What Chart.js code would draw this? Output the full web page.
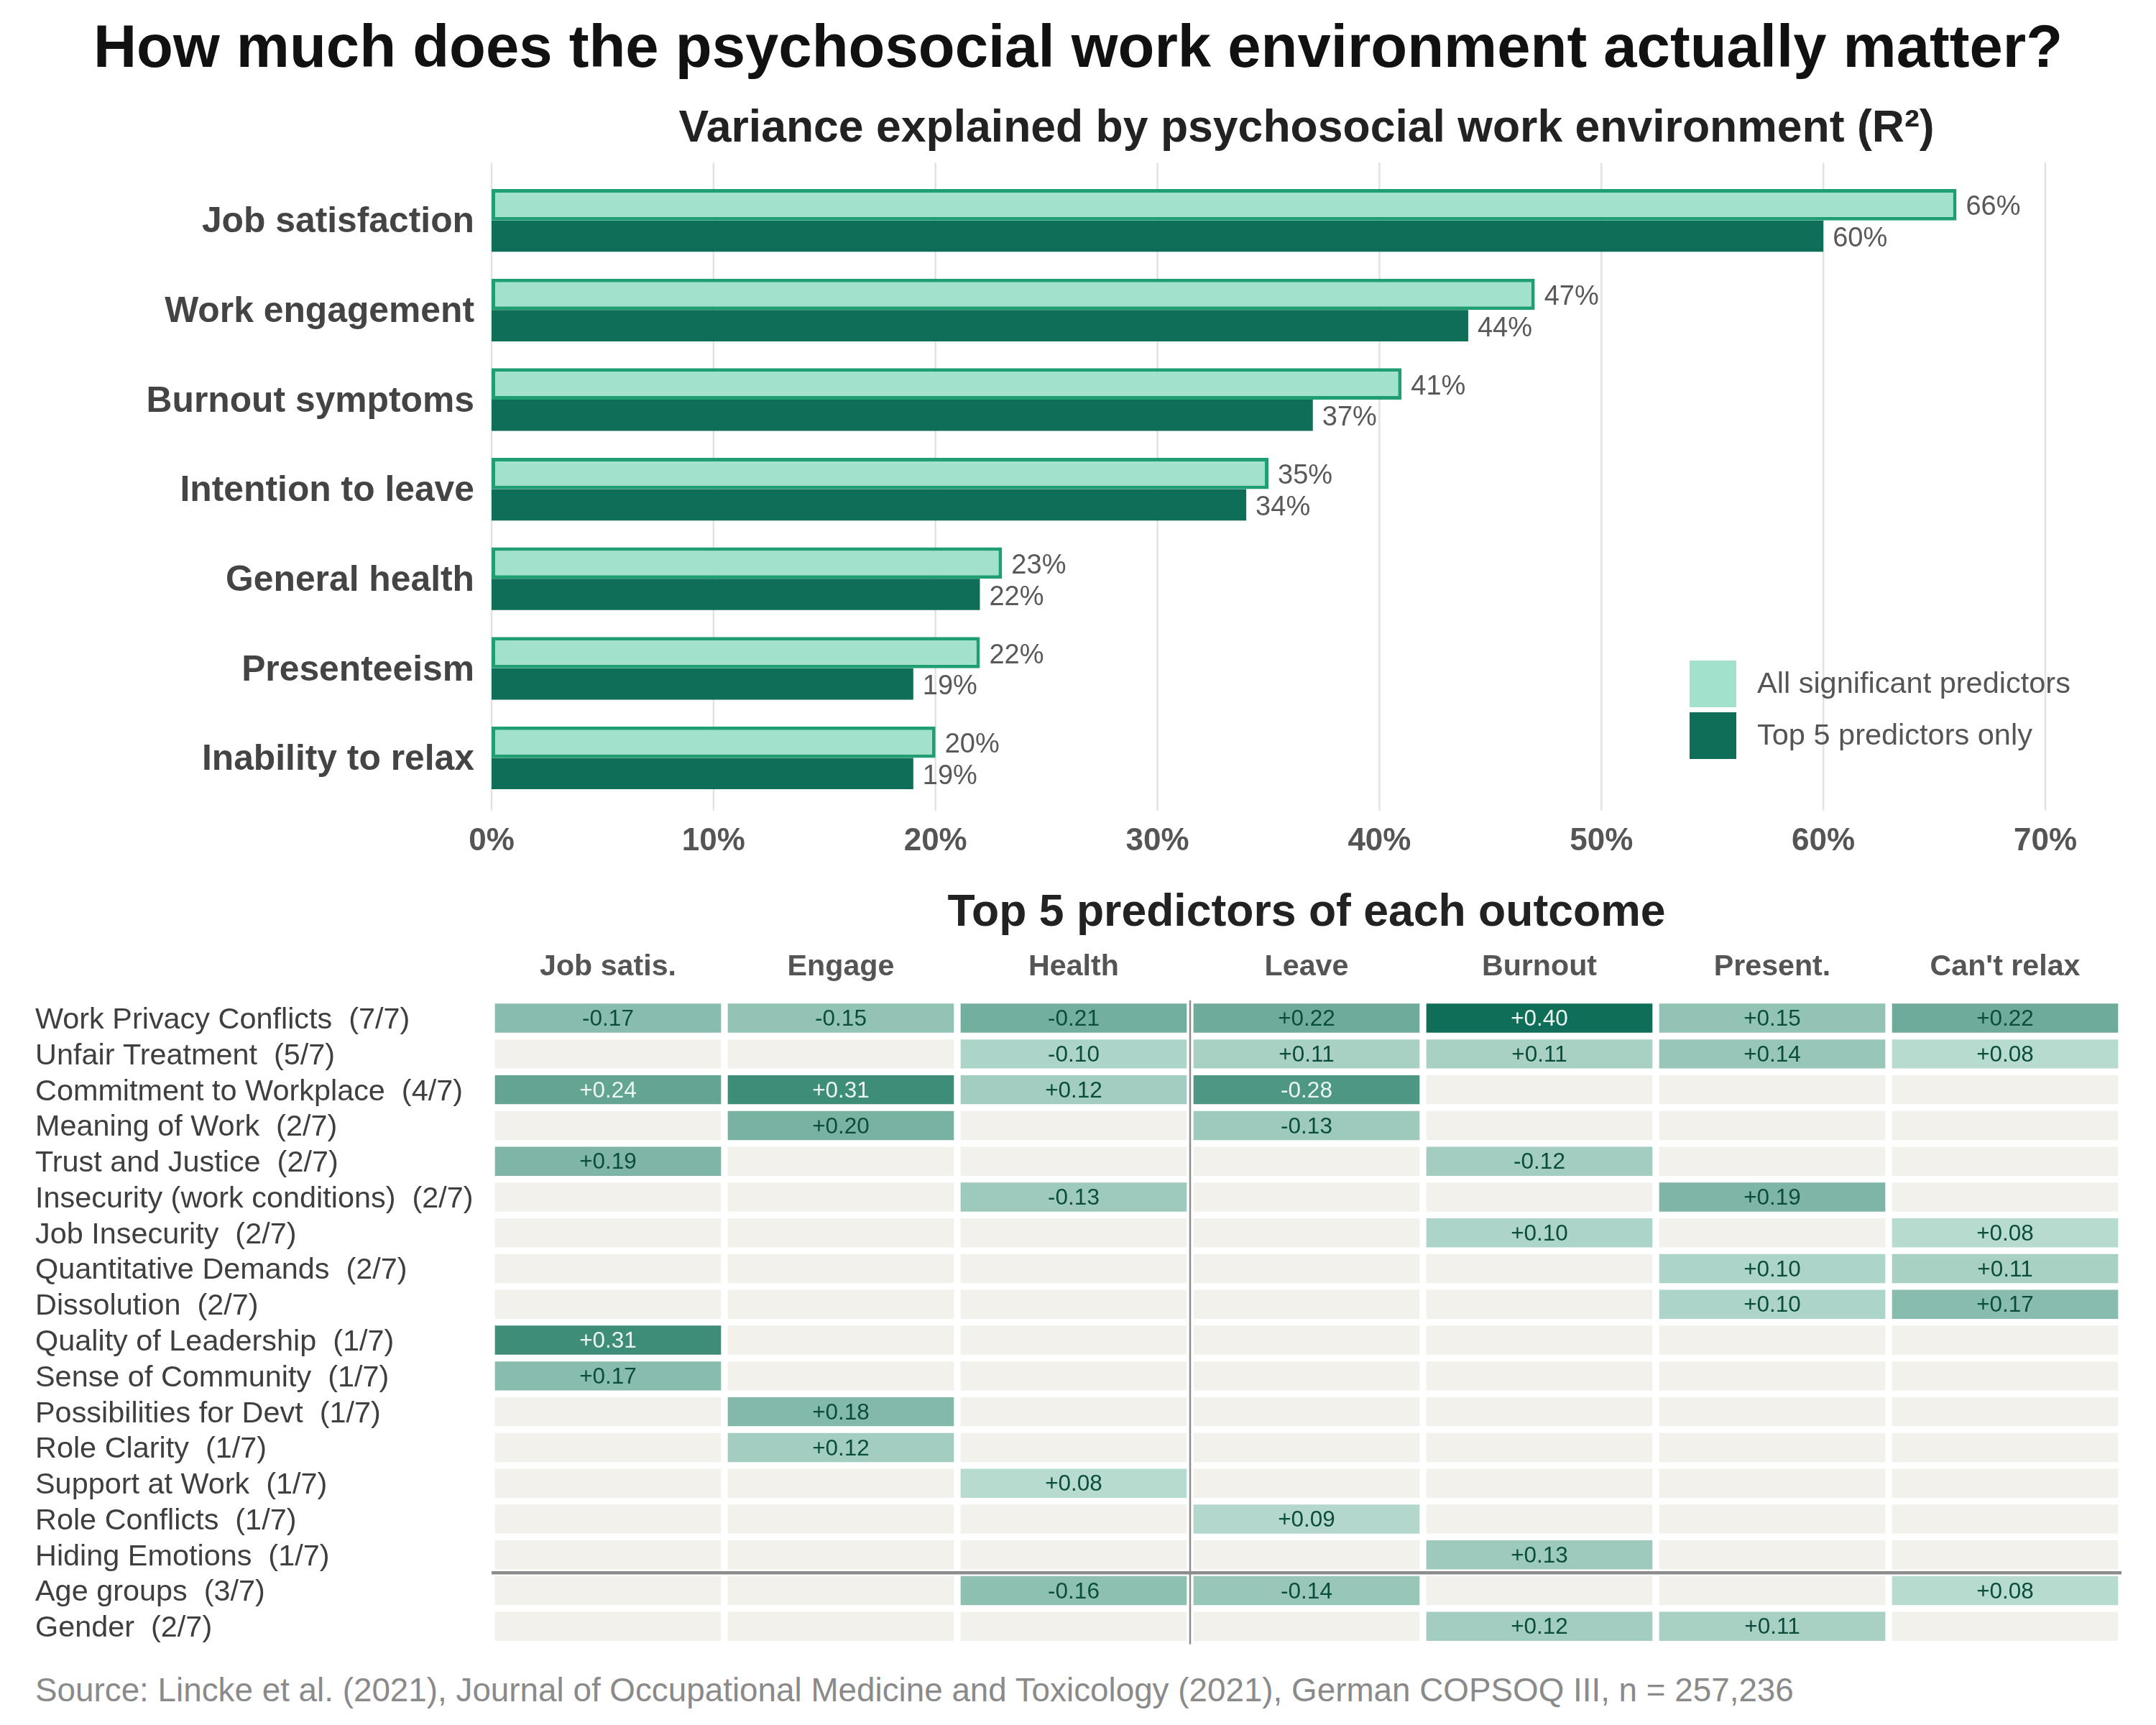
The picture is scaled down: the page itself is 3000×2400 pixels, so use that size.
<!DOCTYPE html>
<html>
<head>
<meta charset="utf-8">
<title>Psychosocial work environment</title>
<script src="https://cdn.jsdelivr.net/npm/chart.js@4.4.1/dist/chart.umd.min.js"></script>
<style>
  html, body { margin: 0; padding: 0; background: #fff; }
  body { width: 3000px; height: 2400px; position: relative; overflow: hidden;
         font-family: 'Liberation Sans', Arial, Helvetica, sans-serif; }
  .txt { position: absolute; white-space: pre; line-height: 1; }
  #title { left: 0; width: 3000px; top: 23px; text-align: center; font-size: 83.3px; font-weight: bold; color: #111; }
  #sub1 { left: 684px; width: 2268px; top: 144px; text-align: center; font-size: 62.5px; font-weight: bold; color: #222; }
  #sub2 { left: 684px; width: 2268px; top: 1235px; text-align: center; font-size: 62.5px; font-weight: bold; color: #222; }
  #source { left: 49px; top: 2329px; font-size: 45.8px; color: #8a8a8a; }
  #bars { position: absolute; left: 0; top: 200px; }
  #heat { position: absolute; left: 0; top: 1302px; }
</style>
</head>
<body>
<div class="txt" id="title">How much does the psychosocial work environment actually matter?</div>
<div class="txt" id="sub1">Variance explained by psychosocial work environment (R²)</div>
<div class="txt" id="sub2">Top 5 predictors of each outcome</div>
<canvas id="bars" width="3000" height="1000"></canvas>
<canvas id="heat" width="3000" height="1000"></canvas>
<div class="txt" id="source">Source: Lincke et al. (2021), Journal of Occupational Medicine and Toxicology (2021), German COPSOQ III, n = 257,236</div>

<script>
// --- top panel: R² per outcome ---
const outcomes = ['Job satisfaction', 'Work engagement', 'Burnout symptoms', 'Intention to leave',
                  'General health', 'Presenteeism', 'Inability to relax'];
const allPredictors = [66, 47, 41, 35, 23, 22, 20];
const top5Only = [60, 44, 37, 34, 22, 19, 19];
const seriesNames = ['All significant predictors', 'Top 5 predictors only'];
const xTicks = [0, 10, 20, 30, 40, 50, 60, 70];

// --- bottom panel: standardized coefficients of the top 5 predictors ---
const columns = ['Job satis.', 'Engage', 'Health', 'Leave', 'Burnout', 'Present.', "Can't relax"];
const predictors = [
    'Work Privacy Conflicts  (7/7)', 'Unfair Treatment  (5/7)', 'Commitment to Workplace  (4/7)',
    'Meaning of Work  (2/7)', 'Trust and Justice  (2/7)', 'Insecurity (work conditions)  (2/7)',
    'Job Insecurity  (2/7)', 'Quantitative Demands  (2/7)', 'Dissolution  (2/7)',
    'Quality of Leadership  (1/7)', 'Sense of Community  (1/7)', 'Possibilities for Devt  (1/7)',
    'Role Clarity  (1/7)', 'Support at Work  (1/7)', 'Role Conflicts  (1/7)',
    'Hiding Emotions  (1/7)', 'Age groups  (3/7)', 'Gender  (2/7)'
];
const jobSatis  = [-0.17, null, 0.24, null, 0.19, null, null, null, null, 0.31, 0.17, null, null, null, null, null, null, null];
const engage    = [-0.15, null, 0.31, 0.20, null, null, null, null, null, null, null, 0.18, 0.12, null, null, null, null, null];
const health    = [-0.21, -0.10, 0.12, null, null, -0.13, null, null, null, null, null, null, null, 0.08, null, null, -0.16, null];
const leave     = [0.22, 0.11, -0.28, -0.13, null, null, null, null, null, null, null, null, null, null, 0.09, null, -0.14, null];
const burnout   = [0.40, 0.11, null, null, -0.12, null, 0.10, null, null, null, null, null, null, null, null, 0.13, null, 0.12];
const present   = [0.15, 0.14, null, null, null, 0.19, null, 0.10, 0.10, null, null, null, null, null, null, null, null, 0.11];
const cantRelax = [0.22, 0.08, null, null, null, null, 0.08, 0.11, 0.17, null, null, null, null, null, null, null, 0.08, null];
const coefColumns = [jobSatis, engage, health, leave, burnout, present, cantRelax];

Chart.defaults.font.family = "'Liberation Sans', Arial, Helvetica, sans-serif";

const FONT = "'Liberation Sans', Arial, sans-serif";

// vertical grid lines, a bit taller than the bar area (like the ggplot panel)
const gridLines = {
    id: 'gridLines',
    beforeDatasetsDraw(chart) {
        const { ctx, chartArea, scales } = chart;
        ctx.save();
        ctx.strokeStyle = '#e2e2e2';
        ctx.lineWidth = 2.5;
        xTicks.forEach(v => {
            const x = scales.x.getPixelForValue(v);
            ctx.beginPath();
            ctx.moveTo(x, chartArea.top - 18);
            ctx.lineTo(x, chartArea.bottom + 11);
            ctx.stroke();
        });
        ctx.restore();
    }
};

// value labels at the end of each bar
const barLabels = {
    id: 'barLabels',
    afterDatasetsDraw(chart) {
        const ctx = chart.ctx;
        ctx.save();
        ctx.font = '38px ' + FONT;
        ctx.fillStyle = '#595959';
        ctx.textAlign = 'left';
        ctx.textBaseline = 'middle';
        chart.data.datasets.forEach((ds, i) => {
            chart.getDatasetMeta(i).data.forEach((bar, j) => {
                ctx.fillText(ds.data[j] + '%', bar.x + 13, bar.y + 4);
            });
        });
        ctx.restore();
    }
};

// legend inside the panel, lower right
const legendBox = {
    id: 'legendBox',
    afterDraw(chart) {
        const ctx = chart.ctx;
        ctx.save();
        ctx.font = '41.5px ' + FONT;
        ctx.textBaseline = 'middle';
        chart.data.datasets.forEach((ds, i) => {
            const y = 719 + i * 72;
            ctx.fillStyle = ds.backgroundColor;
            ctx.fillRect(2351, y, 65, 65);
            ctx.fillStyle = '#555';
            ctx.fillText(ds.label, 2445, y + 34);
        });
        ctx.restore();
    }
};

new Chart(document.getElementById('bars'), {
    type: 'bar',
    data: {
        labels: outcomes,
        datasets: [
            {
                label: seriesNames[0],
                data: allPredictors,
                backgroundColor: '#a2e2cc',
                borderColor: '#1f9e74',
                borderWidth: 5,
                borderSkipped: false,
                categoryPercentage: 0.7,
                barPercentage: 1
            },
            {
                label: seriesNames[1],
                data: top5Only,
                backgroundColor: '#0f6e58',
                borderWidth: 0,
                categoryPercentage: 0.7,
                barPercentage: 1
            }
        ]
    },
    options: {
        indexAxis: 'y',
        responsive: false,
        animation: false,
        layout: { padding: { left: 0, right: 154, top: 44.4, bottom: 3.2 } },
        scales: {
            x: {
                min: 0,
                max: 70,
                afterBuildTicks: s => { s.ticks = xTicks.map(v => ({ value: v })); },
                afterFit: s => { s.height = 80; s.paddingLeft = 0; s.paddingRight = 0; },
                ticks: {
                    callback: v => v + '%',
                    font: { size: 44, weight: 'bold' },
                    color: '#555',
                    padding: 28
                },
                grid: { display: false, drawTicks: false },
                border: { display: false }
            },
            y: {
                afterFit: s => { s.width = 684; s.paddingTop = 0; s.paddingBottom = 0; },
                ticks: {
                    font: { size: 49.8, weight: 'bold' },
                    color: '#444',
                    padding: 24,
                    labelOffset: 3,
                    autoSkip: false
                },
                grid: { display: false, drawTicks: false },
                border: { display: false }
            }
        },
        plugins: {
            legend: { display: false },
            tooltip: { enabled: false }
        }
    },
    plugins: [gridLines, barLabels, legendBox]
});

// colour of a heatmap cell from the size of its coefficient
function cellColor(v) {
    if (v === null) return '#f2f1ec';
    const t = Math.min(Math.abs(v) / 0.4, 1);
    const lo = [226, 246, 238], hi = [15, 110, 87];
    const c = lo.map((l, k) => Math.round(l + (hi[k] - l) * t));
    return `rgb(${c[0]},${c[1]},${c[2]})`;
}

function fmtCoef(v) {
    return (v > 0 ? '+' : '-') + Math.abs(v).toFixed(2);
}

const cellLabels = {
    id: 'cellLabels',
    afterDatasetsDraw(chart) {
        const ctx = chart.ctx;
        ctx.save();
        ctx.font = '31.5px ' + FONT;
        ctx.textAlign = 'center';
        ctx.textBaseline = 'middle';
        chart.data.datasets.forEach((ds, j) => {
            chart.getDatasetMeta(j).data.forEach((bar, i) => {
                const v = ds.coef[i];
                if (v === null) return;
                const p = bar.getProps(['x', 'y', 'base'], true);
                ctx.fillStyle = Math.abs(v) >= 0.235 ? '#eaf6f1' : '#0b4d3c';
                ctx.fillText(fmtCoef(v), (p.x + p.base) / 2, p.y + 2);
            });
        });

        // dividers: health | leave, psychosocial | demographics
        const { chartArea, scales } = chart;
        ctx.strokeStyle = '#8c8c8c';
        ctx.lineWidth = 2.5;
        const xv = scales.x.getPixelForValue(3);
        ctx.beginPath();
        ctx.moveTo(xv, chartArea.top);
        ctx.lineTo(xv, chartArea.bottom);
        ctx.stroke();

        ctx.lineWidth = 4.5;
        const yh = (scales.y.getPixelForTick(15) + scales.y.getPixelForTick(16)) / 2;
        ctx.beginPath();
        ctx.moveTo(chartArea.left, yh);
        ctx.lineTo(chartArea.right, yh);
        ctx.stroke();
        ctx.restore();
    }
};

new Chart(document.getElementById('heat'), {
    type: 'bar',
    data: {
        labels: predictors,
        datasets: columns.map((name, j) => ({
            label: name,
            data: predictors.map(() => 1),
            coef: coefColumns[j],
            backgroundColor: ctx => cellColor(coefColumns[j][ctx.dataIndex]),
            borderColor: '#ffffff',
            borderWidth: 5,
            borderSkipped: false,
            barPercentage: 1,
            categoryPercentage: 1
        }))
    },
    options: {
        indexAxis: 'y',
        responsive: false,
        animation: false,
        layout: { padding: { left: 49, right: 48, top: 0, bottom: 14.3 } },
        scales: {
            x: {
                type: 'linear',
                position: 'top',
                stacked: true,
                min: 0,
                max: 7,
                afterBuildTicks: s => { s.ticks = columns.map((c, j) => ({ value: j + 0.5 })); },
                afterFit: s => { s.height = 89.7; s.paddingLeft = 0; s.paddingRight = 0; },
                ticks: {
                    callback: (v, i) => columns[i],
                    font: { size: 41.2, weight: 'bold' },
                    color: '#555',
                    padding: 21,
                    autoSkip: false,
                    maxRotation: 0
                },
                grid: { display: false, drawTicks: false },
                border: { display: false }
            },
            y: {
                stacked: true,
                afterFit: s => { s.width = 635; s.paddingTop = 0; s.paddingBottom = 0; },
                ticks: {
                    font: { size: 41.4 },
                    color: '#3f3f3f',
                    crossAlign: 'far',
                    labelOffset: 3,
                    autoSkip: false
                },
                grid: { display: false, drawTicks: false },
                border: { display: false }
            }
        },
        plugins: {
            legend: { display: false },
            tooltip: { enabled: false }
        }
    },
    plugins: [cellLabels]
});
</script>
</body>
</html>
